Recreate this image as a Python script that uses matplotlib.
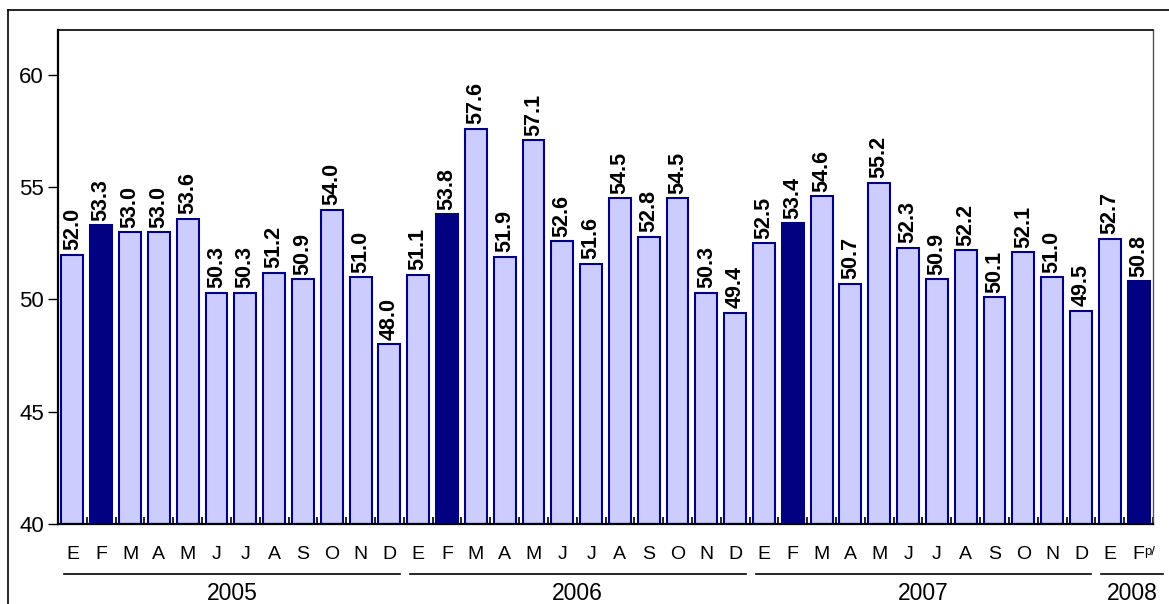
import matplotlib
matplotlib.use("Agg")
import matplotlib.pyplot as plt
from matplotlib.lines import Line2D
from matplotlib.transforms import blended_transform_factory
import numpy as np

plt.rcParams['font.family'] = ['Liberation Sans', 'DejaVu Sans']

months = ["E", "F", "M", "A", "M", "J", "J", "A", "S", "O", "N", "D",
          "E", "F", "M", "A", "M", "J", "J", "A", "S", "O", "N", "D",
          "E", "F", "M", "A", "M", "J", "J", "A", "S", "O", "N", "D",
          "E", "F"]
values = [52.0, 53.3, 53.0, 53.0, 53.6, 50.3, 50.3, 51.2, 50.9, 54.0, 51.0, 48.0,
          51.1, 53.8, 57.6, 51.9, 57.1, 52.6, 51.6, 54.5, 52.8, 54.5, 50.3, 49.4,
          52.5, 53.4, 54.6, 50.7, 55.2, 52.3, 50.9, 52.2, 50.1, 52.1, 51.0, 49.5,
          52.7, 50.8]
highlight = [1, 13, 25, 37]
preliminary_note = "p/"
years = ["2005", "2006", "2007", "2008"]
year_spans = [(0, 12), (12, 24), (24, 36), (36, 38)]

light = "#CCCCFF"
dark = "#000080"

fig = plt.figure(figsize=(11.69, 6.04), dpi=100)
ax = fig.add_axes([58/1169, 80/604, (1153-58)/1169, (524-30)/604])

x = np.arange(len(values))
colors = [dark if i in highlight else light for i in range(len(values))]
ax.bar(x, [v - 40 for v in values], bottom=40, width=0.76, color=colors,
       edgecolor=dark, linewidth=1.5, zorder=2)

for xi, v in zip(x, values):
    ax.text(xi, v + 0.2, f"{v:.1f}", rotation=90, ha="center", va="bottom",
            fontsize=15.5, fontweight="bold", color="black")

ax.set_xlim(-0.5, len(values) - 0.5)
ax.set_ylim(40, 62)
ax.set_yticks([40, 45, 50, 55, 60])
ax.tick_params(axis="y", direction="out", length=7, width=1, labelsize=16, pad=3)

# x ticks: boundary ticks inward, labels at centers
ax.set_xticks(x)
ax.set_xticklabels(months, fontsize=14)
ax.tick_params(axis="x", length=0, pad=15.5)
ax.set_xticks(np.arange(-0.5, len(values), 1)[1:], minor=True)
ax.tick_params(axis="x", which="minor", direction="in", length=5, width=1.2)

# superscript "p/" next to last month label
trans = blended_transform_factory(ax.transData, ax.transAxes)
ax.text(x[-1] + 0.2, -22 / 494, preliminary_note, transform=trans, ha="left",
        va="top", fontsize=9.5, clip_on=False)

for s in ["left", "bottom"]:
    ax.spines[s].set_linewidth(1.6)
ax.spines["top"].set_linewidth(1.2)
ax.spines["right"].set_linewidth(1.0)
ax.spines["right"].set_color("#555555")

# year underline and labels
W = 1169.0
for yr, (a, b) in zip(years, year_spans):
    x0 = 58 + a * (1095 / 38) + 6
    x1 = 58 + b * (1095 / 38) - 4
    if yr == "2008":
        x1 = 1163
    fig.add_artist(Line2D([x0 / W, x1 / W], [1 - 574 / 604, 1 - 574 / 604],
                          color="black", linewidth=1.2))
    fig.text((x0 + x1) / 2 / W, 1 - 593 / 604, yr, ha="center", va="center",
             fontsize=16.5)

# outer border (top and left)
fig.add_artist(Line2D([8 / W, 1.0], [1 - 10 / 604, 1 - 10 / 604], color="black", linewidth=1.2))
fig.add_artist(Line2D([8 / W, 8 / W], [0, 1 - 10 / 604], color="black", linewidth=1.2))

fig.savefig("out.png", dpi=100)
